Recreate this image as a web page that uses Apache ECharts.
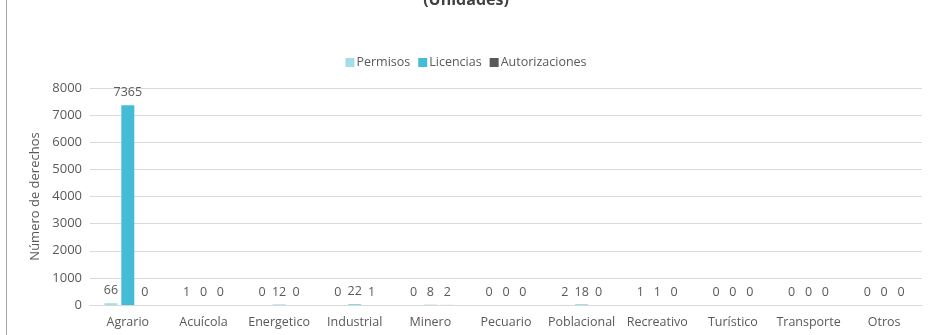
<!DOCTYPE html>
<html>
<head>
<meta charset="utf-8">
<script src="https://cdn.jsdelivr.net/npm/echarts@6/dist/echarts.min.js"></script>
<style>
  html, body { margin: 0; padding: 0; background: #fff; }
  #chart { width: 932px; height: 335px; }
</style>
</head>
<body>
<div id="chart"></div>
<script>
const categories = ['Agrario', 'Acuícola', 'Energetico', 'Industrial', 'Minero', 'Pecuario', 'Poblacional', 'Recreativo', 'Turístico', 'Transporte', 'Otros']
const permisos = [66, 1, 0, 0, 0, 0, 2, 1, 0, 0, 0]
const licencias = [7365, 0, 12, 22, 8, 0, 18, 1, 0, 0, 0]
const autorizaciones = [0, 0, 0, 1, 2, 0, 0, 0, 0, 0, 0]

const fontFamily = '"Open Sans", "Noto Sans", sans-serif'
const textColor = '#595959'

const chart = echarts.init(document.getElementById('chart'))

function barSeries(name, data, color) {
  return {
    name: name,
    type: 'bar',
    data: data,
    barWidth: 13,
    barGap: '30%',
    itemStyle: { color: color },
    label: {
      show: true,
      position: 'top',
      distance: 6,
      color: textColor,
      fontFamily: fontFamily,
      fontSize: 12.5
    }
  }
}

const option = {
  animation: false,
  textStyle: { fontFamily: fontFamily },
  title: {
    text: '(Unidades)',
    left: 'center',
    top: -13,
    textStyle: { fontSize: 16, fontWeight: 'bold', color: '#404040', fontFamily: fontFamily }
  },
  legend: {
    top: 51,
    left: 'center',
    itemWidth: 9,
    itemHeight: 9,
    itemGap: 8,
    icon: 'rect',
    textStyle: { color: textColor, fontSize: 12.5, fontFamily: fontFamily, padding: [0, 0, 0, -3] },
    data: ['Permisos', 'Licencias', 'Autorizaciones']
  },
  grid: {
    left: 90,
    right: 10,
    top: 88,
    bottom: 30
  },
  xAxis: {
    type: 'category',
    data: categories,
    axisLine: { lineStyle: { color: '#d9d9d9' } },
    axisTick: { show: false },
    axisLabel: { color: textColor, fontSize: 12.5, fontFamily: fontFamily, margin: 11, interval: 0 }
  },
  yAxis: {
    type: 'value',
    min: 0,
    max: 8000,
    interval: 1000,
    name: 'Número de derechos',
    nameLocation: 'middle',
    nameGap: 41,
    nameTextStyle: { color: textColor, fontSize: 13, fontFamily: fontFamily },
    axisLine: { show: false },
    axisTick: { show: false },
    axisLabel: {
      color: textColor,
      fontSize: 13,
      fontFamily: fontFamily,
      margin: 8,
      formatter: function (v) { return String(v) }
    },
    splitLine: { lineStyle: { color: '#d9d9d9' } }
  },
  graphic: [
    {
      type: 'line',
      shape: { x1: 6.5, y1: 0, x2: 6.5, y2: 335 },
      style: { stroke: '#a6a6a6', lineWidth: 1 }
    }
  ],
  series: [
    barSeries('Permisos', permisos, '#a3dde8'),
    barSeries('Licencias', licencias, '#45bcd6'),
    barSeries('Autorizaciones', autorizaciones, '#595959')
  ]
}

chart.setOption(option)
</script>
</body>
</html>
